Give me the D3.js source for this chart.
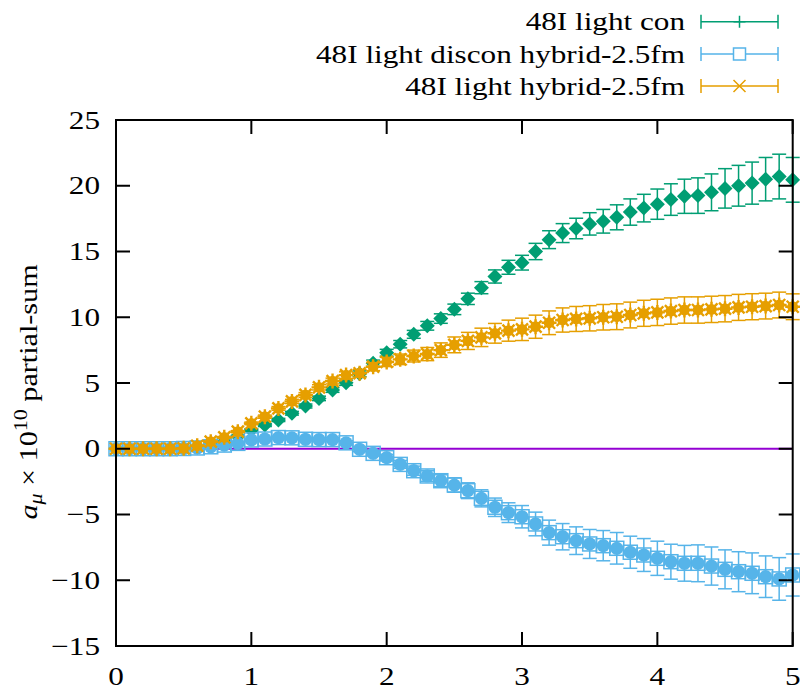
<!DOCTYPE html>
<html>
<head>
<meta charset="utf-8">
<script src="https://cdn.jsdelivr.net/npm/d3@7"></script>
<style>
  html, body { margin: 0; padding: 0; background: #fff; }
  svg { display: block; }
  text { font-family: "Liberation Serif", "DejaVu Serif", serif; fill: #000; }
</style>
</head>
<body>
<svg id="chart" width="800" height="690"></svg>
<script>
// Euclidean-time cutoff (fm)
const xs = [0.0,0.1,0.2,0.3,0.4,0.5,0.6,0.7,0.8,0.9,
            1.0,1.1,1.2,1.3,1.4,1.5,1.6,1.7,1.8,1.9,
            2.0,2.1,2.2,2.3,2.4,2.5,2.6,2.7,2.8,2.9,
            3.0,3.1,3.2,3.3,3.4,3.5,3.6,3.7,3.8,3.9,
            4.0,4.1,4.2,4.3,4.4,4.5,4.6,4.7,4.8,4.9,5.0];

// 48I light con
const conVal = [0,0,0,0,0.01,0.04,0.12,0.3,0.55,0.95,
                1.43,1.8,2.19,2.7,3.25,3.83,4.47,5.02,5.7,6.5,
                7.3,7.95,8.7,9.35,9.9,10.6,11.4,12.25,13.1,13.8,
                14.15,15.0,15.9,16.4,16.75,17.1,17.3,17.6,18.0,18.3,
                18.6,18.95,19.2,19.25,19.5,19.8,20.0,20.2,20.5,20.7,20.45];
const conErr = [0.02,0.02,0.02,0.02,0.03,0.03,0.04,0.05,0.06,0.08,
                0.1,0.11,0.12,0.14,0.15,0.17,0.18,0.2,0.22,0.24,
                0.26,0.28,0.3,0.33,0.36,0.4,0.43,0.46,0.5,0.53,
                0.56,0.62,0.68,0.72,0.78,0.85,0.9,0.95,1.0,1.05,
                1.15,1.2,1.3,1.35,1.4,1.5,1.55,1.6,1.65,1.7,1.7];

// 48I light discon hybrid-2.5fm
const disVal = [0,0,0,0,0,0.02,0.06,0.15,0.28,0.41,
                0.67,0.74,0.85,0.83,0.72,0.7,0.7,0.45,-0.04,-0.35,
                -0.68,-1.19,-1.67,-2.07,-2.43,-2.76,-3.19,-3.77,-4.45,-4.86,
                -5.17,-5.72,-6.38,-6.69,-6.99,-7.24,-7.37,-7.57,-7.87,-8.08,
                -8.33,-8.59,-8.71,-8.71,-8.92,-9.17,-9.35,-9.47,-9.73,-9.9,-9.6];
const disErr = [0.02,0.02,0.02,0.02,0.02,0.03,0.04,0.05,0.06,0.07,
                0.08,0.09,0.1,0.11,0.12,0.13,0.14,0.16,0.18,0.2,
                0.25,0.3,0.35,0.4,0.45,0.55,0.6,0.65,0.7,0.75,
                0.85,0.9,0.95,1.0,1.05,1.1,1.15,1.2,1.22,1.25,
                1.3,1.33,1.36,1.4,1.45,1.48,1.52,1.55,1.58,1.62,1.6];

// 48I light hybrid-2.5fm
const hybVal = [0,0,0,0,0,0.03,0.23,0.54,0.87,1.3,
                1.93,2.44,3.07,3.6,4.09,4.67,5.15,5.6,5.74,6.24,
                6.6,6.8,7.05,7.2,7.5,7.9,8.2,8.47,8.78,8.98,
                9.08,9.28,9.58,9.79,9.87,9.92,10.0,10.04,10.17,10.3,
                10.37,10.47,10.55,10.55,10.6,10.65,10.75,10.8,10.85,10.93,10.8];
const hybErr = [0.02,0.02,0.02,0.02,0.02,0.03,0.04,0.05,0.06,0.08,
                0.1,0.12,0.14,0.16,0.18,0.2,0.22,0.25,0.28,0.3,
                0.35,0.4,0.45,0.5,0.55,0.6,0.65,0.7,0.75,0.8,
                0.85,0.88,0.9,0.92,0.95,0.96,0.97,0.98,0.98,0.99,
                1.0,1.0,1.0,1.0,1.0,1.0,0.99,0.99,0.98,0.98,0.98];

const xTicks = [0,1,2,3,4,5];
const yTicks = [-15,-10,-5,0,5,10,15,20,25];
const seriesNames = ["48I light con", "48I light discon hybrid-2.5fm", "48I light hybrid-2.5fm"];

const colors = { con: "#009e73", dis: "#56b4e9", hyb: "#e69f00", zero: "#9400d3" };

const svg = d3.select("#chart");
const L = 116, R = 792.7, T = 120, B = 646;
const x = d3.scaleLinear().domain([0, 5]).range([L, R]);
const y = d3.scaleLinear().domain([-15, 25]).range([B, T]);

const fontSize = 26;
const widen = 1.2;   // wider serif letterforms
const tickLen = 14;

// text placed at (tx, ty), widened horizontally
function label(tx, ty, str, anchor, extra) {
  return svg.append("text")
    .attr("transform", `translate(${tx},${ty})${extra || ""} scale(${widen},1)`)
    .attr("text-anchor", anchor).attr("font-size", fontSize)
    .text(str);
}

// zero reference line
svg.append("line")
  .attr("x1", x(0)).attr("x2", x(5))
  .attr("y1", y(0)).attr("y2", y(0))
  .attr("stroke", colors.zero).attr("stroke-width", 2);

const makeRows = (vals, errs) => xs.map((xv, i) => ({ x: xv, v: vals[i], e: errs[i] }));

function errorBars(g, rows, color) {
  const cap = 7;
  const eb = g.selectAll("g.eb").data(rows).join("g").attr("class", "eb")
    .attr("stroke", color).attr("stroke-width", 1.5).attr("fill", "none");
  eb.append("line")
    .attr("x1", d => x(d.x)).attr("x2", d => x(d.x))
    .attr("y1", d => y(d.v - d.e)).attr("y2", d => y(d.v + d.e));
  eb.append("line")
    .attr("x1", d => x(d.x) - cap).attr("x2", d => x(d.x) + cap)
    .attr("y1", d => y(d.v + d.e)).attr("y2", d => y(d.v + d.e));
  eb.append("line")
    .attr("x1", d => x(d.x) - cap).attr("x2", d => x(d.x) + cap)
    .attr("y1", d => y(d.v - d.e)).attr("y2", d => y(d.v - d.e));
}

// point shapes
function plusMark(g, cx, cy, color, s) {
  g.append("path").attr("d", `M${cx - s},${cy}H${cx + s}M${cx},${cy - s}V${cy + s}`)
    .attr("stroke", color).attr("stroke-width", 1.5).attr("fill", "none");
}
function crossMark(g, cx, cy, color, s, w) {
  g.append("path").attr("d", `M${cx - s},${cy - s}L${cx + s},${cy + s}M${cx - s},${cy + s}L${cx + s},${cy - s}`)
    .attr("stroke", color).attr("stroke-width", w || 1.5).attr("fill", "none");
}
function squareMark(g, cx, cy, color, s) {
  g.append("rect").attr("x", cx - s).attr("y", cy - s).attr("width", 2 * s).attr("height", 2 * s)
    .attr("stroke", color).attr("stroke-width", 1.5).attr("fill", "none");
}
function diamondMark(g, cx, cy, color, s) {
  g.append("path").attr("d", `M${cx},${cy - s}L${cx + s},${cy}L${cx},${cy + s}L${cx - s},${cy}Z`)
    .attr("fill", color);
}
function circleMark(g, cx, cy, color, r) {
  g.append("circle").attr("cx", cx).attr("cy", cy).attr("r", r).attr("fill", color);
}

// 48I light con: error bars, + points, filled diamonds
const gCon = svg.append("g");
const conRows = makeRows(conVal, conErr);
errorBars(gCon, conRows, colors.con);
conRows.forEach(d => plusMark(gCon, x(d.x), y(d.v), colors.con, 6));
conRows.forEach(d => diamondMark(gCon, x(d.x), y(d.v), colors.con, 7.5));

// 48I light discon hybrid-2.5fm: error bars, open squares, filled circles
const gDis = svg.append("g");
const disRows = makeRows(disVal, disErr);
errorBars(gDis, disRows, colors.dis);
disRows.forEach(d => squareMark(gDis, x(d.x), y(d.v), colors.dis, 7));
disRows.forEach(d => circleMark(gDis, x(d.x), y(d.v), colors.dis, 6.6));

// 48I light hybrid-2.5fm: error bars, x points, filled stars
const gHyb = svg.append("g");
const hybRows = makeRows(hybVal, hybErr);
errorBars(gHyb, hybRows, colors.hyb);
hybRows.forEach(d => {
  const cx = x(d.x), cy = y(d.v);
  circleMark(gHyb, cx, cy, colors.hyb, 5.4);
  crossMark(gHyb, cx, cy, colors.hyb, 6, 2.4);
  gHyb.append("path").attr("d", `M${cx - 7.5},${cy}H${cx + 7.5}M${cx},${cy - 7.5}V${cy + 7.5}`)
    .attr("stroke", colors.hyb).attr("stroke-width", 2.4);
});

// frame
svg.append("rect").attr("x", L).attr("y", T).attr("width", R - L).attr("height", B - T)
  .attr("fill", "none").attr("stroke", "#000").attr("stroke-width", 2);

// ticks on all four sides (inward)
const axes = svg.append("g").attr("stroke", "#000").attr("stroke-width", 2);
xTicks.forEach(t => {
  axes.append("line").attr("x1", x(t)).attr("x2", x(t)).attr("y1", B).attr("y2", B - tickLen);
  axes.append("line").attr("x1", x(t)).attr("x2", x(t)).attr("y1", T).attr("y2", T + tickLen);
});
yTicks.forEach(t => {
  axes.append("line").attr("x1", L).attr("x2", L + tickLen).attr("y1", y(t)).attr("y2", y(t));
  axes.append("line").attr("x1", R).attr("x2", R - tickLen).attr("y1", y(t)).attr("y2", y(t));
});

const fmt = v => (v < 0 ? "\u2212" + Math.abs(v) : String(v));
xTicks.forEach(t => label(x(t), 685, fmt(t), "middle"));
yTicks.forEach(t => label(100, y(t) + 8.5, fmt(t), "end"));

// y-axis title
const yl = svg.append("text")
  .attr("transform", `translate(37,${(T + B) / 2 + 9}) rotate(-90) scale(1.16,1)`)
  .attr("text-anchor", "middle").attr("font-size", fontSize);
yl.append("tspan").attr("font-style", "italic").text("a");
yl.append("tspan").attr("font-style", "italic").attr("font-size", 19).attr("dy", 5).text("\u03bc");
yl.append("tspan").attr("dy", -5).text(" \u00d7 10");
yl.append("tspan").attr("font-size", 19).attr("dy", -10).text("10");
yl.append("tspan").attr("dy", 10).text(" partial-sum");

// legend
const legRows = [
  { name: seriesNames[0], color: colors.con, mark: "plus", cy: 21.7 },
  { name: seriesNames[1], color: colors.dis, mark: "square", cy: 54 },
  { name: seriesNames[2], color: colors.hyb, mark: "cross", cy: 86 }
];
const lx1 = 701, lx2 = 778, lcap = 7;
legRows.forEach(r => {
  label(685, r.cy + 8.5, r.name, "end");
  const g = svg.append("g");
  g.append("path")
    .attr("d", `M${lx1},${r.cy}H${lx2}M${lx1},${r.cy - lcap}V${r.cy + lcap}M${lx2},${r.cy - lcap}V${r.cy + lcap}`)
    .attr("stroke", r.color).attr("stroke-width", 1.5).attr("fill", "none");
  const cx = (lx1 + lx2) / 2;
  if (r.mark === "plus") plusMark(g, cx, r.cy, r.color, 6);
  if (r.mark === "square") { g.append("rect").attr("x", cx - 6).attr("y", r.cy - 6).attr("width", 12).attr("height", 12).attr("fill", "#fff"); squareMark(g, cx, r.cy, r.color, 6); }
  if (r.mark === "cross") crossMark(g, cx, r.cy, r.color, 6);
});
</script>
</body>
</html>
